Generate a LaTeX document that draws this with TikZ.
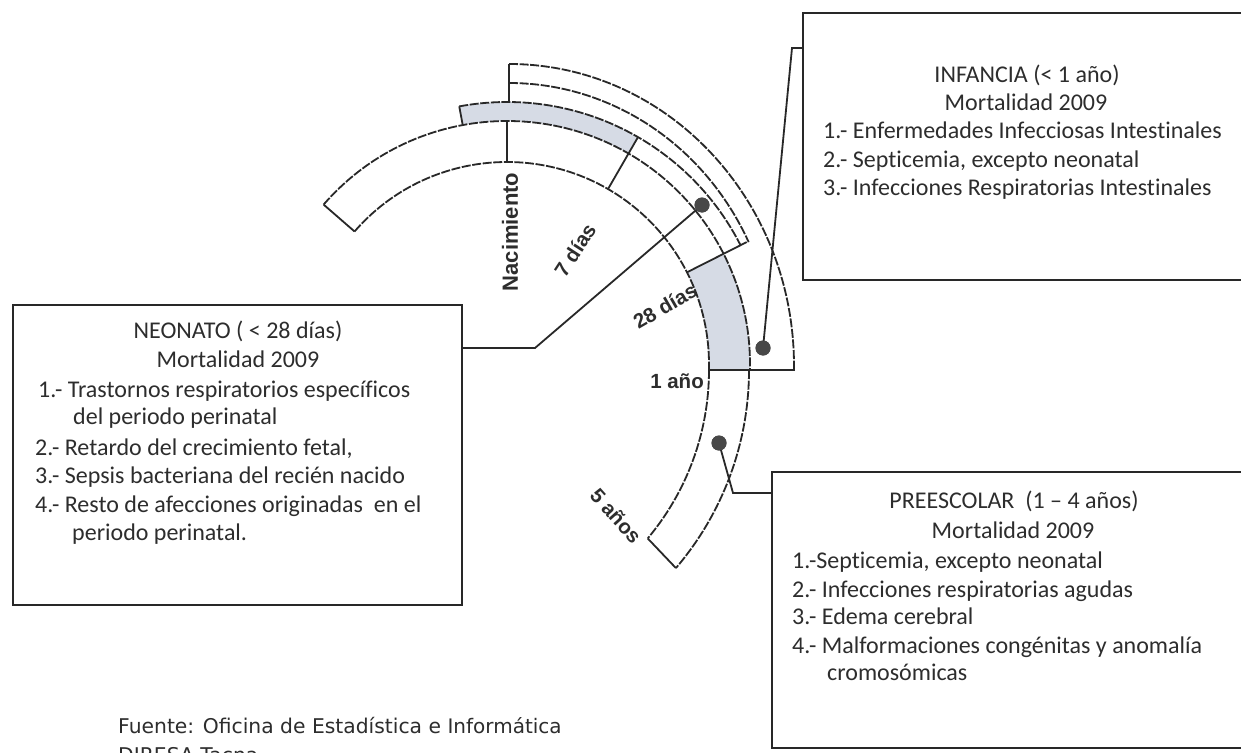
\documentclass[tikz,border=0pt]{standalone}
\usepackage{fontspec}
\setmainfont{Carlito}[Ligatures={NoCommon}]
\newfontfamily\lblfont{Liberation Sans}
\newfontfamily\srcfont{DejaVu Sans}
\usetikzlibrary{calc}
\definecolor{ink}{RGB}{40,40,40}
\definecolor{txtc}{RGB}{45,45,45}
\definecolor{dotc}{RGB}{72,72,72}
\definecolor{grayb}{RGB}{214,219,229}
\begin{document}
\begin{tikzpicture}[x=1pt,y=1pt,
  arcst/.style={line width=1.8pt, draw=ink, dash pattern=on 9pt off 1.6pt},
  lin/.style={line width=1.8pt, draw=ink},
  boxst/.style={line width=2.3pt, draw=ink, rectangle, inner sep=0pt, outer sep=0pt},
  dotst/.style={circle, fill=dotc, minimum size=15pt, inner sep=0pt},
  grayfill/.style={fill=grayb},
  lbl/.style={font=\lblfont\bfseries\fontsize{20.5}{24}\selectfont, text=txtc, inner sep=0pt},
  txt/.style={font=\fontsize{24}{28}\selectfont, text=txtc, inner sep=0pt, anchor=base west},
  ttl/.style={font=\fontsize{24}{28}\selectfont, text=txtc, inner sep=0pt, anchor=base},
]
\useasboundingbox (0,0) rectangle (1241,-752);
\clip (0,0) rectangle (1241,-752);
\fill[white] (0,0) rectangle (1241,-752);
\coordinate (C) at (507,-364);

% gray fills
\fill[grayfill] ($(C)+(100.5:243)$) arc[start angle=100.5,end angle=60,radius=243]
   -- ($(C)+(60:262)$) arc[start angle=60,end angle=100.5,radius=262] -- cycle;
\fill[grayfill] ($(C)+(27:202)$) arc[start angle=27,end angle=-1.7,radius=202]
   -- ($(C)+(-1.4:243)$) arc[start angle=-1.4,end angle=27,radius=243] -- cycle;

% main band
\draw[arcst] ($(C)+(139:243)$) arc[start angle=139,end angle=-1.4,radius=243];
\draw[arcst] ($(C)+(139:202)$) arc[start angle=139,end angle=-1.7,radius=202];
\draw[lin] ($(C)+(139:202)$) -- ($(C)+(139:243)$);
\draw[lin] ($(C)+(90:202)$) -- ($(C)+(90:243)$);
% perinatal / neonato band
\draw[lin] ($(C)+(100.5:243)$) -- ($(C)+(100.5:262)$);
\draw[arcst] ($(C)+(100.5:262)$) arc[start angle=100.5,end angle=27,radius=262];
\draw[lin] ($(C)+(60:202)$) -- ($(C)+(60:262)$);
% outer bands
\coordinate (b28) at (746.7,-242.1);
\draw[arcst] (509,-83) arc[start angle=90,end angle=25.7,x radius=266,y radius=281];
\draw[lin] ($(C)+(27:202)$) -- (b28);
\draw[lin] (509,-102) -- (509,-64);
\draw[arcst] (509,-64) arc[start angle=90,end angle=0,x radius=285,y radius=302];
\draw[lin] (794,-364) -- (794,-370) -- (709,-370);
% preescolar band
\draw[arcst] (709,-370) arc[start angle=0,end angle=-40,radius=262] coordinate (p5i);
\draw[arcst] (749,-370) arc[start angle=0,end angle=-40.5,radius=305] coordinate (p5o);
\draw[lin] (p5i) -- (p5o);

% boxes
\node[boxst, minimum width=449pt, minimum height=300pt, anchor=north west] (neo) at (13,-305) {};
\node[boxst, minimum width=500pt, minimum height=267pt, anchor=north west] (inf) at (803,-13) {};
\node[boxst, minimum width=500pt, minimum height=276pt, anchor=north west] (pre) at (772,-472) {};

% dots and connectors
\node[dotst] (dneo) at (702,-205) {};
\node[dotst] (dinf) at (763,-348) {};
\node[dotst] (dpre) at (719,-443) {};
\coordinate (nk) at (535,-348);
\coordinate (ik) at (792,-48);
\coordinate (pk) at (733,-493);
\draw[lin] (dneo.center) -- (nk) -- (nk -| neo.east);
\draw[lin] (dinf.center) -- (ik) -- (ik -| inf.west);
\draw[lin] (dpre.center) -- (pk) -- (pk -| pre.west);
\node[dotst] at (dneo) {};
\node[dotst] at (dinf) {};
\node[dotst] at (dpre) {};

% period labels
\node[lbl, rotate=90, font=\lblfont\bfseries\fontsize{22}{24}\selectfont] (lnac) at (510,-232) {Nacimiento};
\node[lbl, rotate=57] (l7) at (575,-250) {7 días};
\node[lbl, rotate=30] (l28) at (665,-306) {28 días};
\node[lbl, anchor=base east] (l1) at (704,-388) {1 año};
\node[lbl, rotate=-48] (l5) at (616,-516) {5 años};

% NEONATO text
\node[ttl] at (238,-338) {NEONATO ( < 28 días)};
\node[ttl] at (238,-367) {Mortalidad 2009};
\node[txt] at (38,-397) {1.- Trastornos respiratorios específicos};
\node[txt] at (73,-424) {del periodo perinatal};
\node[txt] at (35,-455) {2.- Retardo del crecimiento fetal,};
\node[txt] at (35,-483) {3.- Sepsis bacteriana del recién nacido};
\node[txt] at (35,-512) {4.- Resto de afecciones originadas\ \ en el};
\node[txt] at (72,-540) {periodo perinatal.};

% INFANCIA text
\node[ttl] at (1027,-82) {INFANCIA (< 1 año)};
\node[ttl] at (1026,-110) {Mortalidad 2009};
\node[txt] at (823,-138) {1.- Enfermedades Infecciosas Intestinales};
\node[txt] at (823,-167) {2.- Septicemia, excepto neonatal};
\node[txt] at (823,-195) {3.- Infecciones Respiratorias Intestinales};

% PREESCOLAR text
\node[ttl] at (1014,-508) {PREESCOLAR\ \ (1 -- 4 años)};
\node[ttl] at (1013,-538) {Mortalidad 2009};
\node[txt] at (792,-568) {1.-Septicemia, excepto neonatal};
\node[txt] at (792,-597) {2.- Infecciones respiratorias agudas};
\node[txt] at (792,-624) {3.- Edema cerebral};
\node[txt] at (792,-653) {4.- Malformaciones congénitas y anomalía};
\node[txt] at (827,-680) {cromosómicas};

% source
\node[inner sep=0pt, anchor=base west, text=txtc, font=\srcfont\fontsize{20.3}{24}\selectfont] (src) at (118,-733)
  {Fuente: Oficina de Estadística e {\fontsize{20}{24}\selectfont Informática}};
\node[inner sep=0pt, anchor=base west, text=txtc, font=\srcfont\fontsize{20.3}{24}\selectfont] (src2) at (118,-762)
  {DIRESA Tacna};
\end{tikzpicture}
\end{document}
